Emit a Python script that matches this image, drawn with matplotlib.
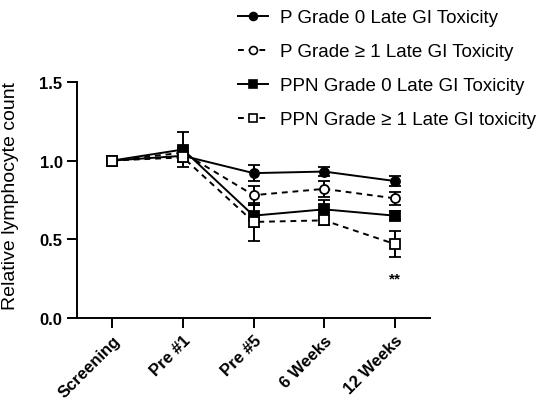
import matplotlib.pyplot as plt
from matplotlib.lines import Line2D
import numpy as np

plt.rcParams['font.family'] = ['Liberation Sans', 'DejaVu Sans']

timepoints = ['Screening', 'Pre #1', 'Pre #5', '6 Weeks', '12 Weeks']

p_g0 = [1.00, 1.03, 0.92, 0.93, 0.87]
p_g0_err = [0.0, 0.03, 0.05, 0.03, 0.03]
p_g1 = [1.00, 1.05, 0.78, 0.82, 0.76]
p_g1_err = [0.0, 0.03, 0.06, 0.05, 0.04]
ppn_g0 = [1.00, 1.07, 0.65, 0.69, 0.65]
ppn_g0_err = [0.0, 0.11, 0.07, 0.06, 0.03]
ppn_g1 = [1.00, 1.02, 0.61, 0.62, 0.47]
ppn_g1_err = [0.0, 0.03, 0.12, 0.03, 0.08]

labels = ['P Grade 0 Late GI Toxicity',
          'P Grade \u2265 1 Late GI Toxicity',
          'PPN Grade 0 Late GI Toxicity',
          'PPN Grade \u2265 1 Late GI toxicity']

x = np.arange(len(timepoints))

fig = plt.figure(figsize=(5.47, 4.10), dpi=100)
ax = fig.add_axes([0.141, 0.222, 0.645, 0.576])

dash = (0, (3, 2.5))
series = [
    (p_g0, p_g0_err, 'o', 'black', '-', 6.5),
    (p_g1, p_g1_err, 'o', 'white', dash, 6.5),
    (ppn_g0, ppn_g0_err, 's', 'black', '-', 7),
    (ppn_g1, ppn_g1_err, 's', 'white', dash, 7),
]
handles = []
for vals, err, mk, face, ls, ms in series:
    ax.errorbar(x, vals, yerr=err, marker=mk, markersize=ms,
                markerfacecolor=face, markeredgecolor='black',
                markeredgewidth=1.3, color='black', linestyle=ls,
                linewidth=1.4, elinewidth=1.4, capsize=4, capthick=1.4)
    # legend entry without the error bar caps
    handles.append(Line2D([], [], marker=mk, markersize=ms - 0.8,
                          markerfacecolor=face, markeredgecolor='black',
                          markeredgewidth=1.2, color='black', linestyle=ls,
                          linewidth=1.4))

ax.text(4, 0.25, '**', ha='center', va='center', fontsize=11, fontweight='bold')

ax.set_xlim(-0.5, 4.5)
ax.set_ylim(0, 1.5)
ax.set_yticks([0.0, 0.5, 1.0, 1.5])
ax.set_yticklabels(['0.0', '0.5', '1.0', '1.5'])
ax.set_xticks(x)
ax.set_xticklabels(timepoints, rotation=45, ha='right', rotation_mode='anchor')
ax.tick_params(axis='both', labelsize=12, width=1.4, length=7)
for t in ax.get_xticklabels() + ax.get_yticklabels():
    t.set_fontweight('bold')
ax.spines['top'].set_visible(False)
ax.spines['right'].set_visible(False)
ax.spines['left'].set_linewidth(1.4)
ax.spines['bottom'].set_linewidth(1.4)
ax.set_ylabel('Relative lymphocyte count', fontsize=14)
ax.yaxis.set_label_coords(-0.165, 0.52)

fig.legend(handles=handles, labels=labels, loc='upper left',
           bbox_to_anchor=(238 / 547, 1 - 10 / 410), frameon=False,
           fontsize=13.5, handlelength=1.6, handletextpad=0.65,
           labelspacing=0.9, borderpad=0, borderaxespad=0)

fig.savefig('out.png', dpi=100)
